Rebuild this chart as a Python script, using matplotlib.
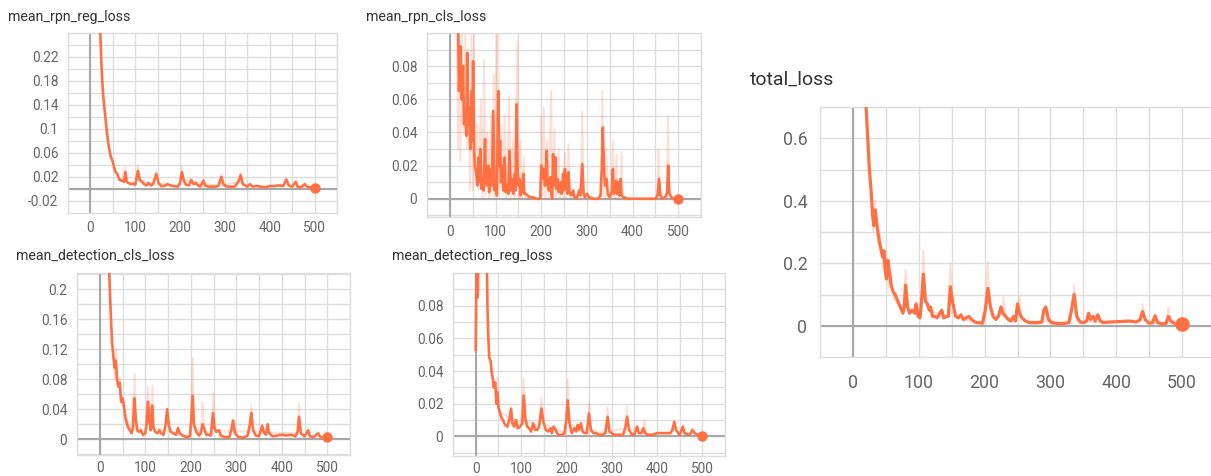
import matplotlib
matplotlib.use("Agg")
import matplotlib.pyplot as plt
from matplotlib.ticker import MultipleLocator, FixedLocator

plt.rcParams["font.family"] = ["Roboto", "DejaVu Sans"]

# ---------------- data ----------------
rpn_reg_x = [10, 20, 22, 25, 28, 32, 36, 40, 45, 50, 55, 60, 65, 70, 75, 78, 81, 85, 90, 95, 100,
             106, 110, 115, 120, 125, 130, 135, 140, 147, 152, 158, 165, 172, 178, 185, 195, 200,
             204, 208, 213, 220, 225, 230, 235, 240, 245, 252, 256, 262, 270, 280, 285, 292, 297,
             305, 315, 322, 330, 335, 340, 350, 356, 362, 370, 380, 390, 400, 410, 420, 430, 437,
             442, 450, 458, 462, 470, 478, 483, 490, 500]
rpn_reg_y = [0.40, 0.30, 0.26, 0.20, 0.16, 0.13, 0.10, 0.075, 0.055, 0.045, 0.030, 0.025, 0.015,
             0.014, 0.012, 0.028, 0.012, 0.010, 0.008, 0.009, 0.007, 0.030, 0.015, 0.012, 0.008,
             0.006, 0.010, 0.006, 0.008, 0.025, 0.010, 0.005, 0.005, 0.008, 0.006, 0.005, 0.004,
             0.010, 0.028, 0.015, 0.007, 0.006, 0.015, 0.008, 0.010, 0.006, 0.004, 0.014, 0.006,
             0.004, 0.004, 0.004, 0.005, 0.020, 0.007, 0.004, 0.004, 0.004, 0.012, 0.023, 0.008,
             0.004, 0.008, 0.004, 0.005, 0.004, 0.003, 0.005, 0.005, 0.006, 0.005, 0.016, 0.006,
             0.004, 0.012, 0.004, 0.003, 0.008, 0.004, 0.003, 0.002]
rpn_reg_raw_x = [70, 78, 81, 100, 106, 110, 140, 147, 152, 198, 204, 208, 288, 292, 297, 330, 335, 340]
rpn_reg_raw_y = [0.014, 0.036, 0.012, 0.007, 0.040, 0.015, 0.008, 0.030, 0.010, 0.004, 0.036, 0.015,
                 0.005, 0.025, 0.007, 0.012, 0.028, 0.008]

rpn_cls_x = [18, 20, 23, 26, 29, 31, 34, 36, 38, 40, 42, 45, 47, 49, 51, 53, 55, 58, 60, 63, 65, 67,
             69, 72, 74, 77, 79, 82, 84, 86, 90, 92, 95, 98, 100, 103, 106, 108, 110, 112, 115, 117,
             120, 122, 125, 128, 131, 133, 136, 139, 142, 144, 146, 148, 150, 153, 155, 158, 161,
             163, 166, 170, 175, 180, 190, 198, 200, 203, 206, 208, 210, 212, 214, 217, 220, 222,
             224, 226, 228, 231, 233, 236, 238, 240, 243, 245, 248, 250, 252, 254, 256, 258, 260,
             262, 266, 270, 273, 278, 283, 286, 290, 293, 296, 300, 305, 315, 325, 330, 333, 335,
             338, 340, 343, 346, 350, 355, 357, 359, 362, 364, 366, 369, 371, 374, 376, 380, 390,
             400, 420, 440, 450, 455, 458, 461, 465, 472, 476, 478, 481, 485, 490, 500]
rpn_cls_y = [0.110, 0.065, 0.092, 0.060, 0.080, 0.045, 0.050, 0.038, 0.088, 0.045, 0.055, 0.030,
             0.065, 0.035, 0.083, 0.030, 0.020, 0.015, 0.008, 0.025, 0.010, 0.030, 0.006, 0.012,
             0.005, 0.036, 0.010, 0.008, 0.020, 0.004, 0.018, 0.008, 0.053, 0.005, 0.010, 0.002,
             0.065, 0.020, 0.035, 0.010, 0.020, 0.005, 0.025, 0.004, 0.008, 0.003, 0.029, 0.005,
             0.012, 0.003, 0.015, 0.005, 0.057, 0.020, 0.008, 0.012, 0.002, 0.005, 0.015, 0.003,
             0.003, 0.002, 0.001, 0.001, 0.000, 0.000, 0.020, 0.012, 0.018, 0.008, 0.010, 0.029,
             0.008, 0.005, 0.013, 0.004, 0.000, 0.027, 0.008, 0.025, 0.006, 0.012, 0.004, 0.008,
             0.010, 0.003, 0.015, 0.005, 0.018, 0.006, 0.014, 0.003, 0.016, 0.004, 0.002, 0.005,
             0.001, 0.000, 0.005, 0.002, 0.021, 0.003, 0.001, 0.003, 0.001, 0.000, 0.000, 0.002,
             0.020, 0.043, 0.015, 0.008, 0.012, 0.003, 0.001, 0.005, 0.018, 0.003, 0.008, 0.011,
             0.003, 0.010, 0.002, 0.012, 0.002, 0.001, 0.000, 0.000, 0.000, 0.000, 0.000, 0.002,
             0.012, 0.002, 0.000, 0.001, 0.004, 0.020, 0.003, 0.001, 0.000, 0.000]
rpn_cls_raw_x = [15, 18, 21, 23, 27, 30, 34, 37, 40, 44, 47, 50, 53, 56, 60, 63, 68, 71, 75, 78, 82,
                 86, 90, 93, 96, 99, 102, 104, 106, 108, 112, 116, 120, 124, 130, 133, 138, 141,
                 148, 151, 155, 158, 162, 165, 199, 200, 203, 206, 209, 213, 216, 222, 225, 229,
                 232, 238, 241, 249, 252, 255, 260, 263, 287, 290, 293, 331, 334, 337, 340, 343,
                 346, 354, 357, 360, 362, 365, 368, 373, 376, 379, 454, 457, 460, 475, 478, 481, 500]
rpn_cls_raw_y = [0.10, 0.03, 0.10, 0.022, 0.10, 0.04, 0.10, 0.03, 0.09, 0.005, 0.10, 0.005, 0.10,
                 0.02, 0.045, 0.005, 0.06, 0.0, 0.084, 0.002, 0.04, 0.0, 0.05, 0.002, 0.075, 0.0,
                 0.10, 0.005, 0.10, 0.0, 0.045, 0.002, 0.05, 0.0, 0.062, 0.0, 0.035, 0.0, 0.095,
                 0.0, 0.035, 0.0, 0.025, 0.0, 0.0, 0.05, 0.002, 0.055, 0.0, 0.035, 0.0, 0.065, 0.0,
                 0.042, 0.0, 0.03, 0.0, 0.0, 0.028, 0.0, 0.033, 0.0, 0.0, 0.053, 0.0, 0.0, 0.065,
                 0.003, 0.0, 0.03, 0.0, 0.0, 0.035, 0.0, 0.0, 0.027, 0.0, 0.0, 0.028, 0.0, 0.0,
                 0.03, 0.0, 0.0, 0.05, 0.0, 0.0]

det_cls_x = [18, 21, 24, 27, 30, 33, 35, 38, 41, 44, 47, 50, 53, 56, 60, 63, 66, 70, 73, 76, 79, 82,
             86, 90, 95, 100, 103, 106, 109, 112, 115, 118, 122, 127, 131, 135, 140, 145, 148, 152,
             156, 162, 168, 172, 176, 182, 190, 198, 201, 204, 207, 212, 218, 222, 226, 229, 234,
             240, 244, 249, 252, 256, 262, 266, 275, 285, 290, 293, 297, 305, 315, 325, 330, 333,
             337, 343, 350, 357, 360, 365, 369, 372, 380, 390, 400, 410, 420, 430, 435, 438, 442,
             450, 458, 462, 470, 480, 485, 492, 500]
det_cls_y = [0.30, 0.22, 0.17, 0.13, 0.11, 0.095, 0.105, 0.080, 0.070, 0.075, 0.050, 0.055, 0.045,
             0.030, 0.020, 0.015, 0.012, 0.008, 0.015, 0.055, 0.030, 0.012, 0.010, 0.012, 0.006,
             0.008, 0.020, 0.050, 0.025, 0.012, 0.045, 0.015, 0.010, 0.008, 0.012, 0.008, 0.006,
             0.020, 0.040, 0.018, 0.010, 0.008, 0.006, 0.015, 0.008, 0.005, 0.003, 0.004, 0.025,
             0.058, 0.020, 0.010, 0.005, 0.008, 0.020, 0.015, 0.006, 0.006, 0.005, 0.035, 0.015,
             0.010, 0.012, 0.005, 0.003, 0.003, 0.015, 0.025, 0.008, 0.003, 0.002, 0.005, 0.020,
             0.035, 0.012, 0.005, 0.004, 0.018, 0.010, 0.006, 0.020, 0.008, 0.004, 0.005, 0.006,
             0.005, 0.006, 0.004, 0.010, 0.030, 0.008, 0.004, 0.012, 0.004, 0.003, 0.008, 0.003,
             0.002, 0.003]
det_cls_raw_x = [30, 33, 36, 40, 44, 48, 70, 77, 80, 100, 106, 110, 113, 116, 119, 200, 204, 208,
                 222, 226, 230, 246, 250, 254, 330, 333, 337, 434, 438, 442]
det_cls_raw_y = [0.11, 0.08, 0.12, 0.07, 0.085, 0.05, 0.008, 0.087, 0.02, 0.008, 0.07, 0.02, 0.015,
                 0.072, 0.015, 0.004, 0.108, 0.02, 0.008, 0.05, 0.012, 0.005, 0.062, 0.012, 0.01,
                 0.046, 0.01, 0.008, 0.048, 0.008]

det_reg_x = [0, 2, 4, 5, 7, 24, 26, 28, 30, 33, 35, 38, 40, 43, 46, 48, 50, 53, 56, 60, 65, 70, 74,
             78, 81, 85, 89, 93, 98, 103, 106, 110, 114, 118, 122, 127, 131, 136, 140, 145, 150,
             155, 160, 165, 168, 172, 176, 182, 190, 196, 200, 203, 207, 212, 218, 222, 225, 228,
             232, 236, 240, 245, 250, 254, 260, 266, 272, 280, 286, 291, 295, 305, 315, 325, 330,
             334, 338, 345, 350, 356, 360, 366, 370, 374, 380, 390, 400, 410, 420, 430, 434, 438,
             442, 450, 457, 461, 470, 475, 478, 483, 490, 500]
det_reg_y = [0.053, 0.11, 0.085, 0.090, 0.14, 0.12, 0.080, 0.060, 0.048, 0.046, 0.040, 0.035, 0.030,
             0.033, 0.020, 0.027, 0.018, 0.015, 0.012, 0.010, 0.007, 0.006, 0.010, 0.017, 0.008,
             0.006, 0.010, 0.005, 0.006, 0.008, 0.025, 0.010, 0.006, 0.005, 0.003, 0.008, 0.004,
             0.004, 0.006, 0.017, 0.008, 0.004, 0.003, 0.005, 0.002, 0.006, 0.004, 0.001, 0.001,
             0.002, 0.010, 0.022, 0.008, 0.002, 0.005, 0.003, 0.007, 0.004, 0.008, 0.003, 0.002,
             0.002, 0.014, 0.004, 0.002, 0.002, 0.001, 0.001, 0.002, 0.012, 0.003, 0.001, 0.001,
             0.001, 0.005, 0.012, 0.004, 0.001, 0.001, 0.006, 0.002, 0.002, 0.005, 0.002, 0.001,
             0.001, 0.002, 0.002, 0.002, 0.002, 0.004, 0.009, 0.004, 0.001, 0.006, 0.002, 0.001,
             0.002, 0.004, 0.002, 0.001, 0.000]
det_reg_raw_x = [44, 48, 52, 100, 106, 110, 140, 145, 150, 198, 203, 207, 246, 250, 254, 287, 291,
                 295, 330, 334, 338, 370, 373, 376]
det_reg_raw_y = [0.025, 0.036, 0.015, 0.008, 0.035, 0.010, 0.006, 0.024, 0.008, 0.002, 0.035, 0.008,
                 0.002, 0.021, 0.004, 0.002, 0.018, 0.003, 0.005, 0.018, 0.004, 0.004, 0.010, 0.002]

total_x = [18, 20, 23, 25, 28, 30, 32, 34, 36, 38, 40, 43, 45, 47, 49, 51, 53, 55, 58, 61, 64, 68, 72,
           76, 78, 80, 83, 86, 90, 94, 96, 99, 102, 105, 107, 110, 113, 116, 118, 121, 125, 128, 132,
           135, 138, 142, 145, 148, 152, 156, 160, 164, 168, 172, 176, 180, 185, 190, 197, 201, 205,
           209, 213, 217, 221, 225, 228, 232, 236, 240, 244, 247, 250, 253, 257, 262, 268, 275, 282,
           287, 290, 293, 297, 302, 310, 320, 328, 332, 336, 340, 345, 350, 355, 358, 361, 365, 368,
           372, 376, 380, 390, 400, 410, 420, 430, 436, 440, 444, 450, 455, 459, 463, 470, 476, 479,
           483, 490, 500]
total_y = [0.90, 0.70, 0.58, 0.50, 0.42, 0.35, 0.32, 0.37, 0.33, 0.30, 0.27, 0.24, 0.22, 0.24, 0.18,
           0.15, 0.21, 0.18, 0.13, 0.11, 0.10, 0.08, 0.06, 0.04, 0.06, 0.13, 0.06, 0.04, 0.05, 0.04,
           0.07, 0.03, 0.025, 0.10, 0.165, 0.08, 0.07, 0.05, 0.06, 0.03, 0.03, 0.025, 0.04, 0.05,
           0.025, 0.03, 0.03, 0.125, 0.07, 0.03, 0.025, 0.035, 0.02, 0.025, 0.03, 0.02, 0.012, 0.01,
           0.008, 0.05, 0.12, 0.06, 0.03, 0.02, 0.03, 0.06, 0.04, 0.03, 0.02, 0.015, 0.03, 0.015,
           0.07, 0.04, 0.025, 0.015, 0.01, 0.01, 0.01, 0.012, 0.05, 0.06, 0.02, 0.01, 0.007, 0.007,
           0.01, 0.05, 0.10, 0.03, 0.012, 0.01, 0.015, 0.04, 0.02, 0.03, 0.015, 0.035, 0.015, 0.01,
           0.012, 0.013, 0.014, 0.015, 0.012, 0.018, 0.045, 0.02, 0.008, 0.01, 0.032, 0.01, 0.006,
           0.008, 0.03, 0.015, 0.005, 0.005]
total_raw_x = [28, 31, 34, 38, 42, 46, 50, 54, 58, 62, 76, 80, 84, 103, 107, 111, 118, 140, 144, 148,
               152, 160, 195, 201, 205, 209, 215, 226, 229, 232, 245, 250, 253, 256, 260, 330, 333,
               336, 340, 345, 433, 437, 440, 444, 450, 474, 476, 479, 483]
total_raw_y = [0.44, 0.30, 0.40, 0.27, 0.29, 0.18, 0.24, 0.12, 0.17, 0.09, 0.04, 0.18, 0.05, 0.03,
               0.24, 0.07, 0.05, 0.025, 0.03, 0.20, 0.06, 0.025, 0.008, 0.05, 0.205, 0.05, 0.02,
               0.04, 0.09, 0.03, 0.015, 0.04, 0.095, 0.03, 0.015, 0.01, 0.06, 0.13, 0.03, 0.012,
               0.012, 0.02, 0.07, 0.02, 0.008, 0.006, 0.01, 0.06, 0.01]

# ---------------- styling ----------------
ORANGE = "#ff7043"
GRID = "#dedede"
ZERO = "#a8a8a8"
TICKC = "#666666"
TITLEC = "#333333"

W, H = 1211, 476
fig = plt.figure(figsize=(W / 100, H / 100), dpi=100)
fig.patch.set_facecolor("white")


def px_axes(l, t, r, b):
    return fig.add_axes([l / W, 1 - b / H, (r - l) / W, (b - t) / H])


def panel(rect, xs, ys, rx, ry, ylim, ymajor, yminor, ylabels, title, tpos,
          big=False, xpad=6):
    ax = px_axes(*rect)
    ax.set_xlim(-50, 550)
    ax.set_ylim(*ylim)
    ax.xaxis.set_major_locator(FixedLocator([0, 100, 200, 300, 400, 500]))
    ax.xaxis.set_minor_locator(MultipleLocator(50))
    ax.yaxis.set_major_locator(FixedLocator(ymajor))
    ax.yaxis.set_minor_locator(MultipleLocator(yminor))
    ax.set_yticklabels(ylabels)
    ax.set_xticklabels(["0", "100", "200", "300", "400", "500"])
    ax.grid(True, which="both", color=GRID, linewidth=1.0)
    ax.set_axisbelow(True)
    for s in ax.spines.values():
        s.set_color(GRID)
        s.set_linewidth(1.0)
    fs = 12.8 if big else 9.8
    ax.tick_params(which="both", length=0, labelsize=fs, labelcolor=TICKC)
    ax.tick_params(axis="y", pad=9 if big else 7)
    ax.tick_params(axis="x", pad=xpad)
    ax.axhline(0, color=ZERO, linewidth=1.5, zorder=1.5)
    ax.axvline(0, color=ZERO, linewidth=1.5, zorder=1.5)
    ax.plot(rx, ry, color=ORANGE, alpha=0.22, linewidth=1.3, zorder=2)
    ax.plot(xs, ys, color=ORANGE, linewidth=2.3 if big else 1.9, zorder=3,
            solid_joinstyle="round")
    ax.plot([xs[-1]], [ys[-1]], "o", color=ORANGE, markersize=9.5 if big else 6.5,
            zorder=4, clip_on=False)
    fig.text(tpos[0] / W, 1 - tpos[1] / H, title, fontsize=14 if big else 10.2,
             color=TITLEC, va="center", ha="left")
    return ax


panel((68, 33, 337, 213), rpn_reg_x, rpn_reg_y, rpn_reg_raw_x, rpn_reg_raw_y,
      (-0.04, 0.26), [-0.02, 0.02, 0.06, 0.10, 0.14, 0.18, 0.22], 0.02,
      ["-0.02", "0.02", "0.06", "0.1", "0.14", "0.18", "0.22"],
      "mean_rpn_reg_loss", (8, 17))

panel((427, 33, 701, 217), rpn_cls_x, rpn_cls_y, rpn_cls_raw_x, rpn_cls_raw_y,
      (-0.011, 0.10), [0, 0.02, 0.04, 0.06, 0.08], 0.01,
      ["0", "0.02", "0.04", "0.06", "0.08"],
      "mean_rpn_cls_loss", (366, 17))

panel((77, 273, 350, 455), det_cls_x, det_cls_y, det_cls_raw_x, det_cls_raw_y,
      (-0.021, 0.222), [0, 0.04, 0.08, 0.12, 0.16, 0.20], 0.02,
      ["0", "0.04", "0.08", "0.12", "0.16", "0.2"],
      "mean_detection_cls_loss", (16, 256), xpad=4)

panel((453, 273, 725, 456), det_reg_x, det_reg_y, det_reg_raw_x, det_reg_raw_y,
      (-0.012, 0.10), [0, 0.02, 0.04, 0.06, 0.08], 0.01,
      ["0", "0.02", "0.04", "0.06", "0.08"],
      "mean_detection_reg_loss", (392, 256), xpad=4)

panel((820, 107, 1215, 357), total_x, total_y, total_raw_x, total_raw_y,
      (-0.1, 0.7), [0, 0.2, 0.4, 0.6], 0.1,
      ["0", "0.2", "0.4", "0.6"],
      "total_loss", (750, 80), big=True, xpad=12)

fig.savefig("out.png", dpi=100, facecolor="white")
